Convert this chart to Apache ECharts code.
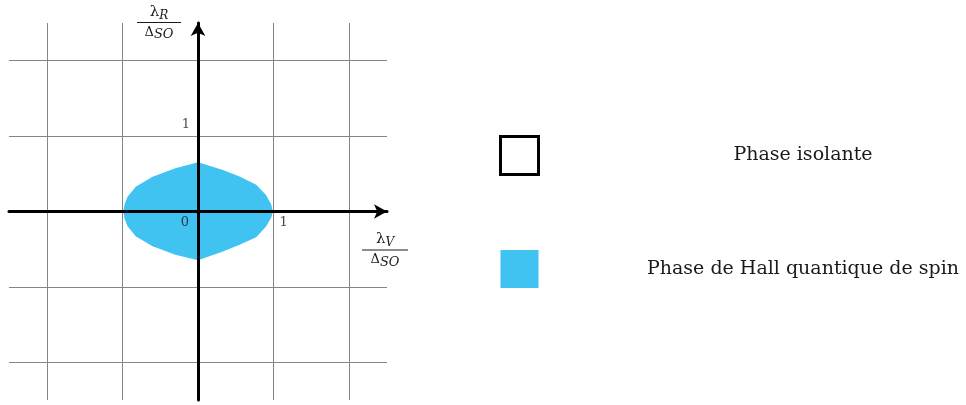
<!DOCTYPE html>
<html>
<head>
<meta charset="utf-8">
<script src="https://cdn.jsdelivr.net/npm/echarts@6/dist/echarts.min.js"></script>
<style>
  html, body { margin: 0; padding: 0; background: #fff; }
  #chart { width: 966px; height: 405px; }
</style>
</head>
<body>
<div id="chart"></div>
<script>
// Phase diagram in the (λV/ΔSO, λR/ΔSO) plane
const gridTicks = [-2, -1, 1, 2];

// Boundary of the quantum spin Hall region (upper edge; lower edge listed separately)
const phaseX    = [-0.99, -0.97, -0.93, -0.82, -0.60, -0.30, 0.00, 0.33, 0.55, 0.77, 0.90, 0.97, 0.99];
const phaseYTop = [ 0.00,  0.10,  0.20,  0.33,  0.46,  0.575, 0.654, 0.552, 0.464, 0.354, 0.22, 0.09, 0.00];
const phaseYBot = [ 0.00, -0.10, -0.20, -0.33, -0.46, -0.575, -0.645, -0.53, -0.44, -0.34, -0.20, -0.08, 0.00];

// Axis tick labels: [x, y, text]
const tickLabels = [[0, 0, '0'], [1, 0, '1'], [0, 1, '1']];
const tickOffsets = [[-13, 11], [10, 11], [-12, -11]];

const legendNames = ['Phase isolante', 'Phase de Hall quantique de spin'];

const qshColor = '#41C3F2';
const ink = '#1a1a1a';
const serif = '"DejaVu Serif", "Liberation Serif", serif';

// Closed outline: upper edge left→right, lower edge right→left
const outline = [];
for (let i = 0; i < phaseX.length; i++) outline.push([phaseX[i], phaseYTop[i]]);
for (let i = phaseX.length - 2; i > 0; i--) outline.push([phaseX[i], phaseYBot[i]]);

const chart = echarts.init(document.getElementById('chart'), null, { renderer: 'canvas' });

const axisCommon = {
  type: 'value',
  min: -2.5,
  max: 2.5,
  z: 10,
  axisLine: {
    onZero: true,
    symbol: ['none', 'arrow'],
    symbolSize: [11, 13],
    lineStyle: { color: '#000', width: 3 }
  },
  axisTick: { show: false },
  axisLabel: { show: false },
  splitLine: { show: false }
};

// Fraction-style axis names
function fraction(cx, lineY, halfW, num, sub) {
  const numRich = {
    l: { fontFamily: serif, fontSize: 15, fill: ink },
    s: { fontFamily: serif, fontStyle: 'italic', fontSize: 12, fill: ink, padding: [7, 0, 0, 0] }
  };
  const denRich = {
    l: { fontFamily: serif, fontSize: 13, fill: ink },
    s: { fontFamily: serif, fontStyle: 'italic', fontSize: 13, fill: ink, padding: [5, 0, 0, 0] }
  };
  return [
    { type: 'text', x: cx, y: lineY - 1, style: { text: '{l|' + num + '}{s|' + sub + '}', rich: numRich, align: 'center', verticalAlign: 'bottom' } },
    { type: 'line', shape: { x1: cx - halfW, y1: lineY, x2: cx + halfW, y2: lineY }, style: { stroke: ink, lineWidth: 1 } },
    { type: 'text', x: cx, y: lineY + 1, style: { text: '{l|Δ}{s|SO}', rich: denRich, align: 'center', verticalAlign: 'top' } }
  ];
}

chart.setOption({
  animation: false,
  backgroundColor: '#fff',
  grid: { left: 9, right: 579, top: 23, bottom: 5 },
  xAxis: axisCommon,
  yAxis: axisCommon,
  legend: {
    orient: 'vertical',
    left: 499,
    top: 135,
    padding: 0,
    itemWidth: 38,
    itemHeight: 38,
    itemGap: 74,
    selectedMode: false,
    data: [
      { name: legendNames[0], icon: 'rect', itemStyle: { color: '#fff', borderColor: '#000', borderWidth: 3 } },
      { name: legendNames[1], icon: 'rect', itemStyle: { color: qshColor, borderWidth: 0 } }
    ],
    formatter: function (name) { return '{t|' + name + '}'; },
    textStyle: {
      rich: {
        t: { width: 519, align: 'center', fontFamily: serif, fontSize: 19, color: ink }
      }
    }
  },
  series: [
    {
      name: legendNames[0],
      type: 'custom',
      coordinateSystem: 'cartesian2d',
      data: [],
      renderItem: function () { return null; },
      // integer grid lines
      markLine: {
        silent: true,
        symbol: 'none',
        label: { show: false },
        lineStyle: { color: '#858585', width: 1, type: 'solid' },
        data: gridTicks.map(v => ({ xAxis: v })).concat(gridTicks.map(v => ({ yAxis: v })))
      }
    },
    {
      name: legendNames[1],
      type: 'custom',
      coordinateSystem: 'cartesian2d',
      itemStyle: { color: qshColor },
      data: outline,
      renderItem: function (params, api) {
        if (params.dataIndex !== 0) return null;
        const pts = outline.map(p => api.coord(p));
        return { type: 'polygon', shape: { points: pts }, style: { fill: qshColor } };
      }
    },
    {
      name: 'ticks',
      type: 'scatter',
      symbolSize: 0,
      z: 12,
      silent: true,
      data: tickLabels.map((t, i) => ({
        value: [t[0], t[1]],
        label: {
          show: true,
          position: 'inside',
          offset: tickOffsets[i],
          formatter: t[2],
          fontFamily: serif,
          fontSize: 13,
          color: ink
        }
      }))
    }
  ],
  graphic: fraction(159, 22.5, 22, 'λ', 'R').concat(fraction(385, 250, 23, 'λ', 'V'))
});
</script>
</body>
</html>
